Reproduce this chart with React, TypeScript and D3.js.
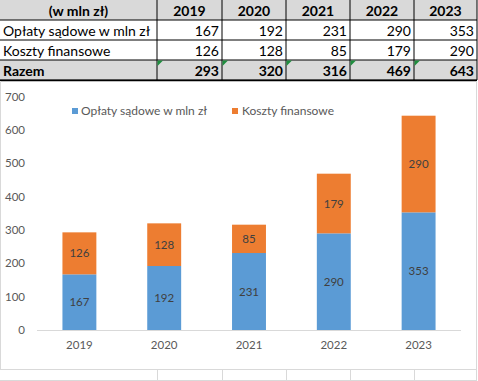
import React from "react";
import * as d3 from "d3";

const years = ["2019", "2020", "2021", "2022", "2023"];
const oplaty = [167, 192, 231, 290, 353];
const koszty = [126, 128, 85, 179, 290];
const razem = [293, 320, 316, 469, 643];
const rowLabels = ["Opłaty sądowe w mln zł", "Koszty finansowe", "Razem"];
const headerLabel = "(w mln zł)";
const seriesNames = ["Opłaty sądowe w mln zł", "Koszty finansowe"];
const yTicks = [0, 100, 200, 300, 400, 500, 600, 700];

const BLUE = "#5b9bd5";
const ORANGE = "#ed7d31";
const FONT = "Lato, 'Open Sans', sans-serif";

export default function App() {
  const W = 478, H = 381;
  const colEdges = [0, 157, 222, 286, 350, 414, 477];
  const rowEdges = [0, 20, 40, 60, 80];

  const x = d3.scaleBand<string>().domain(years).range([37, 461]).paddingInner(0.6).paddingOuter(0.3);
  const y = d3.scaleLinear().domain([0, 700]).range([330, 96.7]);

  const stack = years.map((yr, i) => ({ yr, a: oplaty[i], b: koszty[i] }));

  const tableRows = [oplaty, koszty, razem];
  const TF = 14;

  return (
    <div style={{ position: "fixed", left: 0, top: 0 }}>
      <svg width={W} height={H} style={{ display: "block", fontFamily: FONT }}>
        <rect width={W} height={H} fill="#fff" />
        {/* table backgrounds */}
        <rect x={0} y={0} width={477} height={20} fill="#d9d9d9" />
        <rect x={0} y={60} width={477} height={20} fill="#d9d9d9" />
        {/* table grid */}
        {rowEdges.slice(1).map((ry) => (
          <line key={"h" + ry} x1={0} x2={477} y1={ry} y2={ry} stroke="#000" strokeWidth={1} />
        ))}
        <line x1={0} x2={477} y1={80.5} y2={80.5} stroke="#000" strokeWidth={1.5} />
        {colEdges.slice(1).map((cx) => (
          <line key={"v" + cx} x1={cx} x2={cx} y1={0} y2={80} stroke="#000" strokeWidth={1} />
        ))}
        {/* green triangles */}
        {colEdges.slice(1, 6).map((cx) => (
          <path key={"t" + cx} d={`M${cx + 0.5},${60.5} L${cx + 6},${60.5} L${cx + 0.5},${66} Z`} fill="#1e8e3e" />
        ))}
        {/* header text */}
        <text x={(colEdges[0] + colEdges[1]) / 2} y={15.5} textAnchor="middle" fontWeight="bold" fontSize={TF} fill="#000">
          {headerLabel}
        </text>
        {years.map((yr, i) => (
          <text key={yr} x={(colEdges[i + 1] + colEdges[i + 2]) / 2} y={15.5} textAnchor="middle" fontWeight="bold" fontSize={TF} fill="#000">
            {yr}
          </text>
        ))}
        {rowLabels.map((lab, r) => (
          <text key={lab} x={3} y={35.5 + r * 20} fontSize={TF} fontWeight={r === 2 ? "bold" : "normal"} fill="#000">
            {lab}
          </text>
        ))}
        {tableRows.map((vals, r) =>
          vals.map((v, i) => (
            <text key={r + "-" + i} x={colEdges[i + 2] - 3} y={35.5 + r * 20} textAnchor="end" fontSize={TF} fontWeight={r === 2 ? "bold" : "normal"} fill="#000">
              {v}
            </text>
          ))
        )}
        {/* chart borders */}
        <line x1={0.5} x2={0.5} y1={81} y2={369} stroke="#d9d9d9" />
        <line x1={476.5} x2={476.5} y1={81} y2={381} stroke="#d9d9d9" />
        <line x1={0} x2={477} y1={369.5} y2={369.5} stroke="#d9d9d9" />
        <line x1={0} x2={477} y1={380.5} y2={380.5} stroke="#d9d9d9" />
        {colEdges.slice(1, 6).map((cx) => (
          <line key={"g" + cx} x1={cx + 0.5} x2={cx + 0.5} y1={370} y2={381} stroke="#d9d9d9" />
        ))}
        {/* y axis labels */}
        {yTicks.map((t) => (
          <text key={t} x={25} y={y(t)} dy="0.35em" textAnchor="end" fontSize={11.5} fill="#595959">
            {t}
          </text>
        ))}
        {/* bars */}
        {stack.map((d) => (
          <g key={d.yr}>
            <rect x={x(d.yr)} width={x.bandwidth()} y={y(d.a)} height={y(0) - y(d.a)} fill={BLUE} />
            <rect x={x(d.yr)} width={x.bandwidth()} y={y(d.a + d.b)} height={y(d.a) - y(d.a + d.b)} fill={ORANGE} />
            <text x={(x(d.yr) as number) + x.bandwidth() / 2} y={y(d.a / 2)} dy="0.35em" textAnchor="middle" fontSize={11.5} fill="#404040">
              {d.a}
            </text>
            <text x={(x(d.yr) as number) + x.bandwidth() / 2} y={y(d.a + d.b / 2)} dy="0.35em" textAnchor="middle" fontSize={11.5} fill="#404040">
              {d.b}
            </text>
            <text x={(x(d.yr) as number) + x.bandwidth() / 2} y={345} dy="0.35em" textAnchor="middle" fontSize={11.5} fill="#595959">
              {d.yr}
            </text>
          </g>
        ))}
        <line x1={37} x2={461} y1={330.5} y2={330.5} stroke="#d9d9d9" />
        {/* legend */}
        <rect x={72} y={108} width={6} height={6} fill={BLUE} />
        <text x={81} y={111} dy="0.35em" fontSize={12} fill="#595959">{seriesNames[0]}</text>
        <rect x={232} y={108} width={6} height={6} fill={ORANGE} />
        <text x={242} y={111} dy="0.35em" fontSize={12} fill="#595959">{seriesNames[1]}</text>
      </svg>
    </div>
  );
}
